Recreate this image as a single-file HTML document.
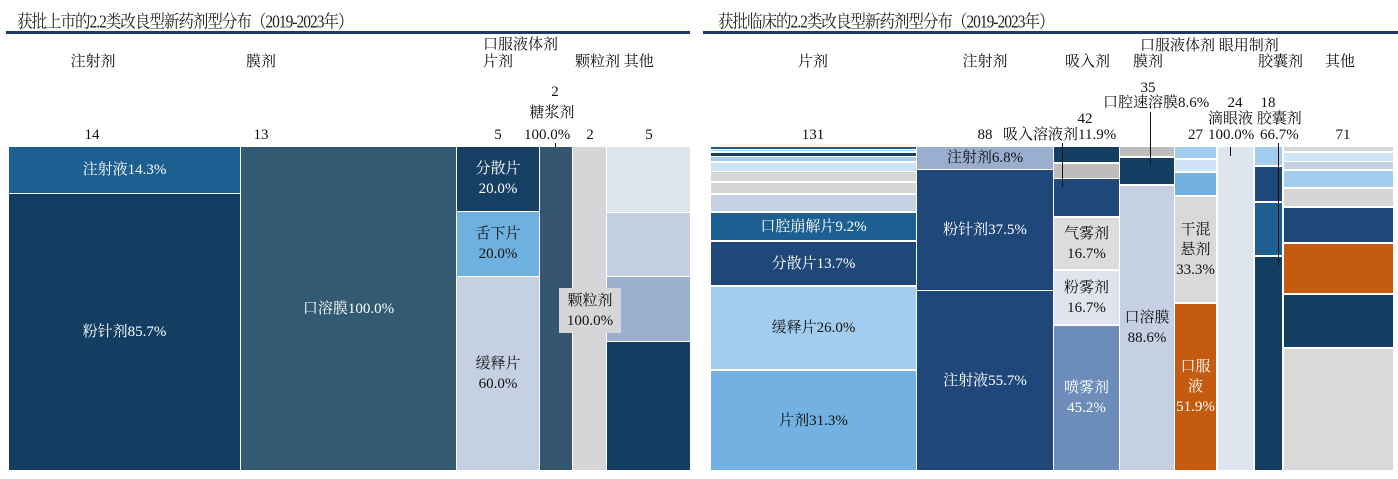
<!DOCTYPE html>
<html><head><meta charset="utf-8"><style>
*{margin:0;padding:0;box-sizing:border-box}
body{width:1398px;height:479px;background:#fff;position:relative;overflow:hidden;font-family:"Liberation Serif","Noto Serif CJK SC",serif;color:#111}
.r{position:absolute;display:flex;align-items:center;justify-content:center;text-align:center;font-size:15px;line-height:20px;color:#fff}
.d{color:#111}
.t{position:absolute;font-size:15px;line-height:18px;white-space:nowrap}
.c{transform:translateX(-50%)}
.ttl{position:absolute;font-size:15.5px;top:8px;white-space:nowrap;color:#222;letter-spacing:-1px;transform:scaleY(1.15);transform-origin:top left}
.hl{position:absolute;height:3px;background:#1f3a66;top:31px}
.vl{position:absolute;width:1px;background:#111}
</style></head><body>
<div class="ttl" style="left:17px">获批上市的2.2类改良型新药剂型分布（2019-2023年）</div>
<div class="hl" style="left:6px;width:684px"></div>
<div class="ttl" style="left:718px">获批临床的2.2类改良型新药剂型分布（2019-2023年）</div>
<div class="hl" style="left:703px;width:695px"></div>

<!-- left labels -->
<div class="t c" style="left:93px;top:53px">注射剂</div>
<div class="t c" style="left:261px;top:53px">膜剂</div>
<div class="t" style="left:483px;top:36px">口服液体剂</div>
<div class="t" style="left:483px;top:53px">片剂</div>
<div class="t" style="left:575px;top:53px">颗粒剂 其他</div>
<div class="t c" style="left:555px;top:83px">2</div>
<div class="t c" style="left:552px;top:104px">糖浆剂</div>
<div class="t c" style="left:92px;top:126px">14</div>
<div class="t c" style="left:261px;top:126px">13</div>
<div class="t c" style="left:498px;top:126px">5</div>
<div class="t" style="left:524px;top:126px">100.0%</div>
<div class="t c" style="left:590px;top:126px">2</div>
<div class="t c" style="left:649px;top:126px">5</div>
<div class="vl" style="left:555px;top:143px;height:13px"></div>

<!-- left rects -->
<div class="r" style="left:9px;top:147px;width:231px;height:46px;background:#1d5f91">注射液14.3%</div>
<div class="r" style="left:9px;top:194px;width:231px;height:276px;background:#133e62">粉针剂85.7%</div>
<div class="r" style="left:241px;top:147px;width:215px;height:323px;background:#335a73">口溶膜100.0%</div>
<div class="r" style="left:457px;top:147px;width:82px;height:64px;background:#163f63">分散片<br>20.0%</div>
<div class="r d" style="left:457px;top:212px;width:82px;height:64px;background:#6eb0e0">舌下片<br>20.0%</div>
<div class="r d" style="left:457px;top:277px;width:82px;height:193px;background:#c5d0e2">缓释片<br>60.0%</div>
<div class="r" style="left:540px;top:147px;width:32px;height:323px;background:#35566f"></div>
<div class="r" style="left:573px;top:147px;width:33px;height:323px;background:#d6d6d8"></div>
<div class="r" style="left:607px;top:147px;width:83px;height:65px;background:#dfe5ef"></div>
<div class="r" style="left:607px;top:213px;width:83px;height:63px;background:#c3cfe0"></div>
<div class="r" style="left:607px;top:277px;width:83px;height:64px;background:#9db0cf"></div>
<div class="r" style="left:607px;top:342px;width:83px;height:128px;background:#143f63"></div>
<div class="r d" style="left:559px;top:288px;width:62px;height:45px;background:#d6d6d8">颗粒剂<br>100.0%</div>

<!-- right labels -->
<div class="t" style="left:1140px;top:37px">口服液体剂 眼用制剂</div>
<div class="t c" style="left:813px;top:53px">片剂</div>
<div class="t c" style="left:985px;top:53px">注射剂</div>
<div class="t" style="left:1065px;top:53px">吸入剂</div>
<div class="t" style="left:1133px;top:53px">膜剂</div>
<div class="t" style="left:1258px;top:53px">胶囊剂</div>
<div class="t" style="left:1325px;top:53px">其他</div>
<div class="t c" style="left:1148px;top:79px">35</div>
<div class="t" style="left:1103px;top:94px">口腔速溶膜8.6%</div>
<div class="t c" style="left:1235px;top:94px">24</div>
<div class="t c" style="left:1268px;top:94px">18</div>
<div class="t c" style="left:1085px;top:110px">42</div>
<div class="t" style="left:1208px;top:110px">滴眼液 胶囊剂</div>
<div class="t c" style="left:813px;top:126px">131</div>
<div class="t c" style="left:985px;top:126px">88</div>
<div class="t" style="left:1003px;top:126px">吸入溶液剂11.9%</div>
<div class="t" style="left:1188px;top:126px">27</div>
<div class="t" style="left:1208px;top:126px">100.0%</div>
<div class="t" style="left:1260px;top:126px">66.7%</div>
<div class="t c" style="left:1343px;top:126px">71</div>

<!-- right rects: tablets -->
<div class="r" style="left:711px;top:147px;width:205px;height:2px;background:#1d5f91"></div>
<div class="r" style="left:711px;top:150px;width:205px;height:1px;background:#a3cdee"></div>
<div class="r" style="left:711px;top:153px;width:205px;height:3px;background:#143f63"></div>
<div class="r" style="left:711px;top:157px;width:205px;height:4px;background:#a3cdee"></div>
<div class="r" style="left:711px;top:163px;width:205px;height:8px;background:#cfe3f5"></div>
<div class="r" style="left:711px;top:172px;width:205px;height:9px;background:#d6d6d6"></div>
<div class="r" style="left:711px;top:183px;width:205px;height:10px;background:#d6d6d6"></div>
<div class="r" style="left:711px;top:195px;width:205px;height:16px;background:#c5d0e2"></div>
<div class="r" style="left:711px;top:213px;width:205px;height:27px;background:#1d5f91">口腔崩解片9.2%</div>
<div class="r" style="left:711px;top:242px;width:205px;height:43px;background:#1f477a">分散片13.7%</div>
<div class="r d" style="left:711px;top:287px;width:205px;height:82px;background:#a3cdee">缓释片26.0%</div>
<div class="r d" style="left:711px;top:371px;width:205px;height:99px;background:#72b1e1">片剂31.3%</div>
<!-- injection -->
<div class="r d" style="left:917px;top:147px;width:136px;height:22px;background:#9aaecf">注射剂6.8%</div>
<div class="r" style="left:917px;top:170px;width:136px;height:120px;background:#1f477a">粉针剂37.5%</div>
<div class="r" style="left:917px;top:291px;width:136px;height:179px;background:#1f477a">注射液55.7%</div>
<!-- inhalation -->
<div class="r" style="left:1054px;top:147px;width:65px;height:15px;background:#143f63"></div>
<div class="r" style="left:1054px;top:164px;width:65px;height:14px;background:#bdbdbd"></div>
<div class="r" style="left:1054px;top:179px;width:65px;height:37px;background:#1f477a"></div>
<div class="r d" style="left:1054px;top:218px;width:65px;height:51px;background:#dcdcdc">气雾剂<br>16.7%</div>
<div class="r d" style="left:1054px;top:271px;width:65px;height:53px;background:#dfe4ee">粉雾剂<br>16.7%</div>
<div class="r" style="left:1054px;top:326px;width:65px;height:144px;background:#6c8cba">喷雾剂<br>45.2%</div>
<!-- film -->
<div class="r" style="left:1120px;top:147px;width:54px;height:9px;background:#bdbdbd"></div>
<div class="r" style="left:1120px;top:158px;width:54px;height:26px;background:#143f63"></div>
<div class="r d" style="left:1120px;top:186px;width:54px;height:284px;background:#c5d0e2">口溶膜<br>88.6%</div>
<!-- oral liquid -->
<div class="r" style="left:1175px;top:147px;width:41px;height:11px;background:#a3cdee"></div>
<div class="r" style="left:1175px;top:160px;width:41px;height:11px;background:#d0e4f5"></div>
<div class="r" style="left:1175px;top:173px;width:41px;height:22px;background:#72b1e1"></div>
<div class="r d" style="left:1175px;top:197px;width:41px;height:105px;background:#d9d9d9">干混<br>悬剂<br>33.3%</div>
<div class="r" style="left:1175px;top:304px;width:41px;height:166px;background:#c55a11">口服<br>液<br>51.9%</div>
<!-- eye -->
<div class="r" style="left:1218px;top:147px;width:35px;height:323px;background:#dfe5ef"></div>
<!-- capsule -->
<div class="r" style="left:1255px;top:147px;width:27px;height:18px;background:#a3cdee"></div>
<div class="r" style="left:1255px;top:167px;width:27px;height:34px;background:#1f477a"></div>
<div class="r" style="left:1255px;top:203px;width:27px;height:52px;background:#1d5f91"></div>
<div class="r" style="left:1255px;top:257px;width:27px;height:213px;background:#143f63"></div>
<!-- other -->
<div class="r" style="left:1284px;top:147px;width:109px;height:4px;background:#d6d6d6"></div>
<div class="r" style="left:1284px;top:153px;width:109px;height:8px;background:#d0e4f5"></div>
<div class="r" style="left:1284px;top:162px;width:109px;height:7px;background:#c5d0e2"></div>
<div class="r" style="left:1284px;top:171px;width:109px;height:16px;background:#a3cdee"></div>
<div class="r" style="left:1284px;top:189px;width:109px;height:17px;background:#d6d6d6"></div>
<div class="r" style="left:1284px;top:208px;width:109px;height:34px;background:#1f477a"></div>
<div class="r" style="left:1284px;top:244px;width:109px;height:49px;background:#c55a11"></div>
<div class="r" style="left:1284px;top:295px;width:109px;height:52px;background:#143f63"></div>
<div class="r" style="left:1284px;top:349px;width:109px;height:121px;background:#d9d9d9"></div>
<!-- leader lines -->
<div class="vl" style="left:1062px;top:143px;height:44px"></div>
<div class="vl" style="left:1150px;top:112px;height:53px"></div>
<div class="vl" style="left:1230px;top:147px;height:9px"></div>
<div class="vl" style="left:1278px;top:143px;height:122px"></div>
</body></html>
